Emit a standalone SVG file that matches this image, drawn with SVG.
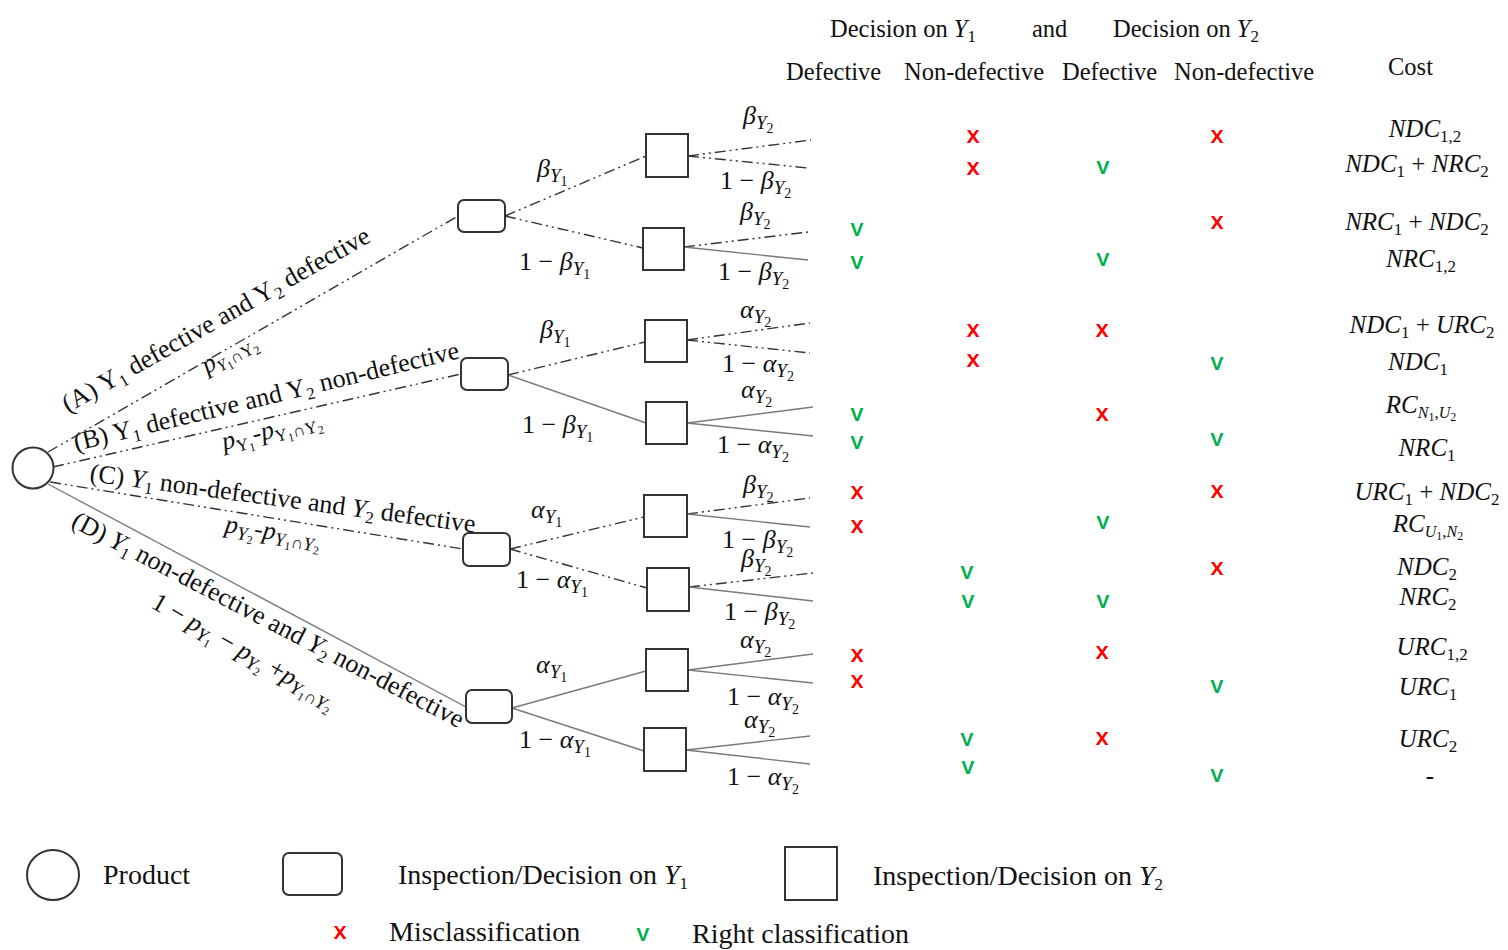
<svg xmlns="http://www.w3.org/2000/svg" width="1508" height="950" viewBox="0 0 1508 950">
  <style>
    text { font-family: "Liberation Serif", "Times New Roman", serif; fill: #111; }
    .hd { font-size: 24.5px; }
    .lg { font-size: 28px; }
    .br { font-size: 26px; }
    .m { font-size: 26px; }
    .it { font-style: italic; }
    .sy { font-size: 19px; font-style: italic; }
    .sd { font-size: 14px; font-style: normal; }
    .sb { font-size: 17px; font-style: normal; }
    .sbi { font-size: 16px; font-style: italic; }
    .ssb { font-size: 12px; font-style: normal; }
    .up { font-style: normal; }
    .cost { font-size: 25px; font-style: italic; }
    .mk { font-family: "Open Sans", "Liberation Sans", sans-serif; font-size: 24px; font-weight: 600; text-anchor: middle; }
    .bad { fill: #ff0000; }
    .ok { fill: #00b050; }
    .node { fill: #fff; stroke: #333; stroke-width: 2; }
    .dd { fill: none; stroke: #333; stroke-width: 1.4; stroke-dasharray: 11 4 2 4 2 4; }
    .sl { fill: none; stroke: #7a7a7a; stroke-width: 1.4; }
  </style>

  <!-- column headings -->
  <g id="header">
    <text class="hd" x="830" y="37">Decision on <tspan class="it">Y</tspan><tspan class="sb" dy="5">1</tspan></text>
    <text class="hd" x="1032" y="37">and</text>
    <text class="hd" x="1113" y="37">Decision on <tspan class="it">Y</tspan><tspan class="sb" dy="5">2</tspan></text>
    <text class="hd" x="786" y="80">Defective</text>
    <text class="hd" x="904" y="80">Non-defective</text>
    <text class="hd" x="1062" y="80">Defective</text>
    <text class="hd" x="1174" y="80">Non-defective</text>
    <text class="hd" x="1388" y="75">Cost</text>
  </g>

  <!-- connectors -->
  <g id="connectors">
    <!-- product to Y1 inspections -->
    <line class="dd" x1="48" y1="452" x2="458" y2="216"/>
    <line class="dd" x1="53" y1="467" x2="461" y2="374"/>
    <line class="dd" x1="50" y1="482" x2="463" y2="549"/>
    <line class="sl" x1="48" y1="484" x2="466" y2="707"/>
    <!-- Y1 to Y2 inspections -->
    <line class="dd" x1="505" y1="216" x2="646" y2="156"/>
    <line class="dd" x1="505" y1="216" x2="643" y2="248"/>
    <line class="dd" x1="508" y1="375" x2="645" y2="342"/>
    <line class="sl" x1="508" y1="375" x2="646" y2="423"/>
    <line class="dd" x1="510" y1="549" x2="644" y2="517"/>
    <line class="dd" x1="510" y1="549" x2="647" y2="588"/>
    <line class="sl" x1="512" y1="708" x2="646" y2="671"/>
    <line class="sl" x1="512" y1="708" x2="644" y2="751"/>
    <!-- Y2 outcomes -->
    <line class="dd" x1="688" y1="156" x2="811" y2="140"/>
    <line class="dd" x1="688" y1="156" x2="808" y2="168"/>
    <line class="dd" x1="684" y1="247" x2="808" y2="232"/>
    <line class="sl" x1="684" y1="247" x2="808" y2="260"/>
    <line class="dd" x1="687" y1="340" x2="810" y2="323"/>
    <line class="dd" x1="687" y1="340" x2="810" y2="353"/>
    <line class="sl" x1="687" y1="423" x2="813" y2="407"/>
    <line class="sl" x1="687" y1="423" x2="813" y2="436"/>
    <line class="dd" x1="687" y1="514" x2="810" y2="498"/>
    <line class="sl" x1="687" y1="514" x2="810" y2="527"/>
    <line class="dd" x1="689" y1="587" x2="813" y2="573"/>
    <line class="sl" x1="689" y1="587" x2="813" y2="601"/>
    <line class="sl" x1="688" y1="670" x2="813" y2="654"/>
    <line class="sl" x1="688" y1="670" x2="813" y2="683"/>
    <line class="sl" x1="686" y1="750" x2="810" y2="736"/>
    <line class="sl" x1="686" y1="750" x2="810" y2="764"/>
  </g>

  <!-- branch labels from the product -->
  <g id="branch-labels">
    <text class="br" transform="translate(68,413) rotate(-29.5)">(A) <tspan>Y</tspan><tspan class="sb" dy="5">1</tspan><tspan dy="-5"> defective and Y</tspan><tspan class="sb" dy="5">2</tspan><tspan dy="-5"> defective</tspan></text>
    <text class="br" transform="translate(207,374) rotate(-29.5)"><tspan class="it">p</tspan><tspan class="sbi" dy="5" font-style="normal">Y</tspan><tspan class="ssb" dy="3">1</tspan><tspan class="sb" dy="-3">∩Y</tspan><tspan class="ssb" dy="3">2</tspan></text>

    <text class="br" transform="translate(76,451) rotate(-13.6)">(B) Y<tspan class="sb" dy="5">1</tspan><tspan dy="-5"> defective and Y</tspan><tspan class="sb" dy="5">2</tspan><tspan dy="-5"> non-defective</tspan></text>
    <text class="br" transform="translate(224,450) rotate(-14)"><tspan class="it">p</tspan><tspan class="sb" dy="5">Y</tspan><tspan class="ssb" dy="3">1</tspan><tspan dy="-8">-</tspan><tspan class="it">p</tspan><tspan class="sb" dy="5">Y</tspan><tspan class="ssb" dy="3">1</tspan><tspan class="sb" dy="-3">∩Y</tspan><tspan class="ssb" dy="3">2</tspan></text>

    <text class="br" transform="translate(89,481) rotate(7.6)">(C) <tspan class="it">Y</tspan><tspan class="sb" dy="5">1</tspan><tspan dy="-5"> non-defective and </tspan><tspan class="it">Y</tspan><tspan class="sb" dy="5">2</tspan><tspan dy="-5"> defective</tspan></text>
    <text class="br" transform="translate(224,532) rotate(9)"><tspan class="it">p</tspan><tspan class="sy" dy="5">Y</tspan><tspan class="ssb" dy="3">2</tspan><tspan dy="-8">-</tspan><tspan class="it">p</tspan><tspan class="sy" dy="5">Y</tspan><tspan class="ssb" dy="3">1</tspan><tspan class="sb" dy="-3">∩</tspan><tspan class="sy">Y</tspan><tspan class="ssb" dy="3">2</tspan></text>

    <text class="br" transform="translate(70,526) rotate(27.5)">(D) <tspan class="it">Y</tspan><tspan class="sb" dy="5">1</tspan><tspan dy="-5"> non-defective and </tspan><tspan class="it">Y</tspan><tspan class="sb" dy="5">2</tspan><tspan dy="-5"> non-defective</tspan></text>
    <text class="br" transform="translate(150,607) rotate(29.5)">1 − <tspan class="it">p</tspan><tspan class="sy" dy="5">Y</tspan><tspan class="ssb" dy="3">1</tspan><tspan dy="-8"> − </tspan><tspan class="it">p</tspan><tspan class="sy" dy="5">Y</tspan><tspan class="ssb" dy="3">2</tspan><tspan dy="-8"> +</tspan><tspan class="it">p</tspan><tspan class="sy" dy="5">Y</tspan><tspan class="ssb" dy="3">1</tspan><tspan class="sb" dy="-3">∩</tspan><tspan class="sy">Y</tspan><tspan class="ssb" dy="3">2</tspan></text>
  </g>

  <!-- probability labels on inspection branches -->
  <g id="edge-labels">
    <!-- Y1 decisions -->
    <text class="m" x="537" y="177"><tspan class="it">β</tspan><tspan class="sy" dy="5">Y</tspan><tspan class="sd" dy="4">1</tspan></text>
    <text class="m" x="519" y="270">1 − <tspan class="it">β</tspan><tspan class="sy" dy="5">Y</tspan><tspan class="sd" dy="4">1</tspan></text>
    <text class="m" x="540" y="338"><tspan class="it">β</tspan><tspan class="sy" dy="5">Y</tspan><tspan class="sd" dy="4">1</tspan></text>
    <text class="m" x="522" y="433">1 − <tspan class="it">β</tspan><tspan class="sy" dy="5">Y</tspan><tspan class="sd" dy="4">1</tspan></text>
    <text class="m" x="531" y="518"><tspan class="it">α</tspan><tspan class="sy" dy="5">Y</tspan><tspan class="sd" dy="4">1</tspan></text>
    <text class="m" x="516" y="588">1 − <tspan class="it">α</tspan><tspan class="sy" dy="5">Y</tspan><tspan class="sd" dy="4">1</tspan></text>
    <text class="m" x="536" y="673"><tspan class="it">α</tspan><tspan class="sy" dy="5">Y</tspan><tspan class="sd" dy="4">1</tspan></text>
    <text class="m" x="519" y="748">1 − <tspan class="it">α</tspan><tspan class="sy" dy="5">Y</tspan><tspan class="sd" dy="4">1</tspan></text>
    <!-- Y2 decisions -->
    <text class="m" x="743" y="124"><tspan class="it">β</tspan><tspan class="sy" dy="5">Y</tspan><tspan class="sd" dy="4">2</tspan></text>
    <text class="m" x="720" y="189">1 − <tspan class="it">β</tspan><tspan class="sy" dy="5">Y</tspan><tspan class="sd" dy="4">2</tspan></text>
    <text class="m" x="740" y="220"><tspan class="it">β</tspan><tspan class="sy" dy="5">Y</tspan><tspan class="sd" dy="4">2</tspan></text>
    <text class="m" x="718" y="280">1 − <tspan class="it">β</tspan><tspan class="sy" dy="5">Y</tspan><tspan class="sd" dy="4">2</tspan></text>
    <text class="m" x="740" y="318"><tspan class="it">α</tspan><tspan class="sy" dy="5">Y</tspan><tspan class="sd" dy="4">2</tspan></text>
    <text class="m" x="722" y="372">1 − <tspan class="it">α</tspan><tspan class="sy" dy="5">Y</tspan><tspan class="sd" dy="4">2</tspan></text>
    <text class="m" x="741" y="398"><tspan class="it">α</tspan><tspan class="sy" dy="5">Y</tspan><tspan class="sd" dy="4">2</tspan></text>
    <text class="m" x="717" y="453">1 − <tspan class="it">α</tspan><tspan class="sy" dy="5">Y</tspan><tspan class="sd" dy="4">2</tspan></text>
    <text class="m" x="743" y="493"><tspan class="it">β</tspan><tspan class="sy" dy="5">Y</tspan><tspan class="sd" dy="4">2</tspan></text>
    <text class="m" x="722" y="548">1 − <tspan class="it">β</tspan><tspan class="sy" dy="5">Y</tspan><tspan class="sd" dy="4">2</tspan></text>
    <text class="m" x="741" y="567"><tspan class="it">β</tspan><tspan class="sy" dy="5">Y</tspan><tspan class="sd" dy="4">2</tspan></text>
    <text class="m" x="724" y="620">1 − <tspan class="it">β</tspan><tspan class="sy" dy="5">Y</tspan><tspan class="sd" dy="4">2</tspan></text>
    <text class="m" x="740" y="648"><tspan class="it">α</tspan><tspan class="sy" dy="5">Y</tspan><tspan class="sd" dy="4">2</tspan></text>
    <text class="m" x="727" y="705">1 − <tspan class="it">α</tspan><tspan class="sy" dy="5">Y</tspan><tspan class="sd" dy="4">2</tspan></text>
    <text class="m" x="744" y="728"><tspan class="it">α</tspan><tspan class="sy" dy="5">Y</tspan><tspan class="sd" dy="4">2</tspan></text>
    <text class="m" x="727" y="785">1 − <tspan class="it">α</tspan><tspan class="sy" dy="5">Y</tspan><tspan class="sd" dy="4">2</tspan></text>
  </g>

  <!-- nodes -->
  <g id="product"><circle class="node" cx="33" cy="468" r="20.5"/></g>
  <g id="y1-a"><rect class="node" x="458" y="200" width="47" height="32" rx="6"/></g>
  <g id="y1-b"><rect class="node" x="461" y="358" width="47" height="32" rx="6"/></g>
  <g id="y1-c"><rect class="node" x="463" y="533" width="47" height="33" rx="6"/></g>
  <g id="y1-d"><rect class="node" x="466" y="690" width="46" height="33" rx="6"/></g>
  <g id="y2-a1"><rect class="node" x="646" y="134" width="42" height="43"/></g>
  <g id="y2-a2"><rect class="node" x="643" y="228" width="41" height="42"/></g>
  <g id="y2-b1"><rect class="node" x="645" y="320" width="42" height="42"/></g>
  <g id="y2-b2"><rect class="node" x="646" y="402" width="41" height="42"/></g>
  <g id="y2-c1"><rect class="node" x="644" y="495" width="43" height="42"/></g>
  <g id="y2-c2"><rect class="node" x="647" y="568" width="42" height="43"/></g>
  <g id="y2-d1"><rect class="node" x="646" y="649" width="42" height="42"/></g>
  <g id="y2-d2"><rect class="node" x="644" y="728" width="42" height="43"/></g>

  <!-- classification marks -->
  <g id="marks">
    <text class="mk bad" x="973" y="143">x</text><text class="mk bad" x="1217" y="143">x</text>
    <text class="mk bad" x="973" y="175">x</text><text class="mk ok" x="1103" y="174">v</text>
    <text class="mk ok" x="857" y="236">v</text><text class="mk bad" x="1217" y="229">x</text>
    <text class="mk ok" x="857" y="269">v</text><text class="mk ok" x="1103" y="266">v</text>
    <text class="mk bad" x="973" y="337">x</text><text class="mk bad" x="1102" y="337">x</text>
    <text class="mk bad" x="973" y="367">x</text><text class="mk ok" x="1217" y="370">v</text>
    <text class="mk ok" x="857" y="421">v</text><text class="mk bad" x="1102" y="421">x</text>
    <text class="mk ok" x="857" y="449">v</text><text class="mk ok" x="1217" y="446">v</text>
    <text class="mk bad" x="857" y="499">x</text><text class="mk bad" x="1217" y="498">x</text>
    <text class="mk bad" x="857" y="533">x</text><text class="mk ok" x="1103" y="529">v</text>
    <text class="mk ok" x="967" y="579">v</text><text class="mk bad" x="1217" y="575">x</text>
    <text class="mk ok" x="968" y="608">v</text><text class="mk ok" x="1103" y="608">v</text>
    <text class="mk bad" x="857" y="662">x</text><text class="mk bad" x="1102" y="659">x</text>
    <text class="mk bad" x="857" y="688">x</text><text class="mk ok" x="1217" y="693">v</text>
    <text class="mk ok" x="967" y="746">v</text><text class="mk bad" x="1102" y="745">x</text>
    <text class="mk ok" x="968" y="774">v</text><text class="mk ok" x="1217" y="782">v</text>
  </g>

  <!-- cost column -->
  <g id="costs" text-anchor="middle">
    <text class="cost" x="1425" y="137">NDC<tspan class="sb" dy="5">1,2</tspan></text>
    <text class="cost" x="1417" y="172">NDC<tspan class="sb" dy="5">1</tspan><tspan class="up" dy="-5"> + </tspan>NRC<tspan class="sb" dy="5">2</tspan></text>
    <text class="cost" x="1417" y="230">NRC<tspan class="sb" dy="5">1</tspan><tspan class="up" dy="-5"> + </tspan>NDC<tspan class="sb" dy="5">2</tspan></text>
    <text class="cost" x="1421" y="267">NRC<tspan class="sb" dy="5">1,2</tspan></text>
    <text class="cost" x="1422" y="333">NDC<tspan class="sb" dy="5">1</tspan><tspan class="up" dy="-5"> + </tspan>URC<tspan class="sb" dy="5">2</tspan></text>
    <text class="cost" x="1418" y="370">NDC<tspan class="sb" dy="5">1</tspan></text>
    <text class="cost" x="1421" y="413">RC<tspan class="sbi" dy="5">N</tspan><tspan class="ssb" dy="3">1</tspan><tspan class="sb" dy="-3">,</tspan><tspan class="sbi">U</tspan><tspan class="ssb" dy="3">2</tspan></text>
    <text class="cost" x="1427" y="456">NRC<tspan class="sb" dy="5">1</tspan></text>
    <text class="cost" x="1427" y="500">URC<tspan class="sb" dy="5">1</tspan><tspan class="up" dy="-5"> + </tspan>NDC<tspan class="sb" dy="5">2</tspan></text>
    <text class="cost" x="1428" y="532">RC<tspan class="sbi" dy="5">U</tspan><tspan class="ssb" dy="3">1</tspan><tspan class="sb" dy="-3">,</tspan><tspan class="sbi">N</tspan><tspan class="ssb" dy="3">2</tspan></text>
    <text class="cost" x="1427" y="575">NDC<tspan class="sb" dy="5">2</tspan></text>
    <text class="cost" x="1428" y="605">NRC<tspan class="sb" dy="5">2</tspan></text>
    <text class="cost" x="1432" y="655">URC<tspan class="sb" dy="5">1,2</tspan></text>
    <text class="cost" x="1428" y="695">URC<tspan class="sb" dy="5">1</tspan></text>
    <text class="cost" x="1428" y="747">URC<tspan class="sb" dy="5">2</tspan></text>
    <text class="cost up" x="1430" y="784">-</text>
  </g>

  <!-- legend -->
  <g id="legend">
    <ellipse class="node" cx="53" cy="875" rx="26" ry="25"/>
    <text class="lg" x="103" y="884">Product</text>
    <rect class="node" x="283" y="853" width="59" height="42" rx="6"/>
    <text class="lg" x="398" y="884">Inspection/Decision on <tspan class="it">Y</tspan><tspan class="sb" dy="5">1</tspan></text>
    <rect class="node" x="785" y="847" width="52" height="53"/>
    <text class="lg" x="873" y="885">Inspection/Decision on <tspan class="it">Y</tspan><tspan class="sb" dy="5">2</tspan></text>
    <text class="mk bad" x="340" y="939">x</text>
    <text class="lg" x="389" y="941">Misclassification</text>
    <text class="mk ok" x="643" y="941">v</text>
    <text class="lg" x="692" y="943">Right classification</text>
  </g>
</svg>
